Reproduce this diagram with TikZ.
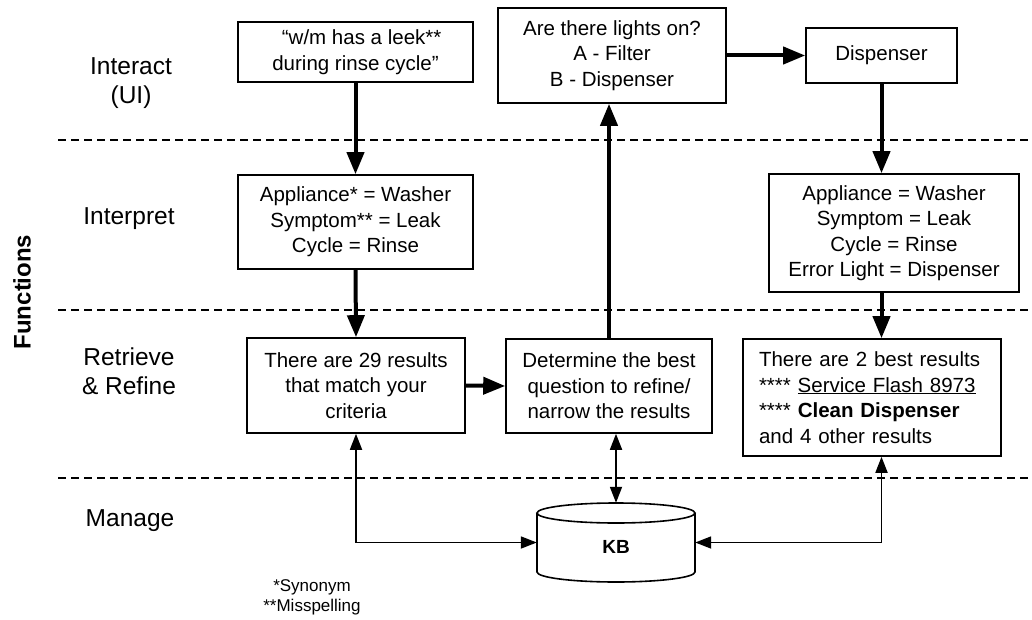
\documentclass[tikz,border=0pt]{standalone}
\usepackage{fontspec}
\setmainfont{Liberation Sans}
\usetikzlibrary{arrows.meta,calc}
\begin{document}
\begin{tikzpicture}[x=1pt,y=-1pt,
 box/.style={draw,line width=1.6pt,align=center,font=\fontsize{20.5}{25.5}\selectfont,inner sep=0pt},
 lane/.style={font=\fontsize{24.5}{29}\selectfont,align=center},
 sep/.style={line width=1.5pt,dash pattern=on 8pt off 5pt},
 flow/.style={line width=4pt,-{Triangle[length=22pt,width=17pt]}},
 link/.style={line width=1.8pt,{Triangle[length=16pt,width=12pt]}-{Triangle[length=16pt,width=12pt]}}]
\useasboundingbox (0,0) rectangle (1032,620);
% lane separators
\draw[sep] (58,140) -- (1032,140);
\draw[sep] (58,310) -- (1032,310);
\draw[sep] (58,478) -- (1032,478);
% lane labels
\node[lane] (l1) at (131,83) {Interact\\(UI)};
\node[lane] (l2) at (129,219) {Interpret};
\node[lane] (l3) at (129,371) {Retrieve\\\& Refine};
\node[lane] (l4) at (130,521) {Manage};
\node[font=\bfseries\fontsize{24}{29}\selectfont,rotate=90] (fn) at (22,292) {Functions};
% boxes
\node[box,minimum width=235pt,minimum height=60pt] (q) at (355.5,52) {\hspace*{0.6em}“w/m has a leek**\\during rinse cycle”};
\node[box,minimum width=228pt,minimum height=95pt] (lights) at (612,55.5) {Are there lights on?\\A - Filter\\B - Dispenser};
\node[box,minimum width=151pt,minimum height=55pt] (disp) at (881.5,55.5) {Dispenser};
\node[box,minimum width=235pt,minimum height=94pt] (interp) at (355.5,222) {Appliance* = Washer\\Symptom** = Leak\\Cycle = Rinse};
\node[box,minimum width=250pt,minimum height=118pt] (rint) at (894,233) {Appliance = Washer\\Symptom = Leak\\Cycle = Rinse\\Error Light = Dispenser};
\node[box,minimum width=218pt,minimum height=95pt] (res) at (356,385.5) {There are 29 results\\that match your\\criteria};
\node[box,minimum width=206pt,minimum height=94pt] (det) at (609,386) {Determine the best\\question to refine/\\narrow the results};
\node[box,minimum width=258pt,minimum height=117pt,align=left,text width=226pt] (best) at (872,397.5) {There are 2 best results\\*{*}*{*}* \underline{Service Flash 8973}\\*{*}*{*}* \textbf{Clean Dispenser}\\and 4 other results};
% KB cylinder
\node[minimum width=158pt,minimum height=79pt,inner sep=0pt] (kb) at (616,542.5) {};
\draw[line width=1.6pt] (616,513) ellipse [x radius=79, y radius=10];
\draw[line width=1.6pt] (537,513) -- (537,572) arc[start angle=180,end angle=0,x radius=79,y radius=10] -- (695,513);
\node[font=\bfseries\fontsize{19}{23}\selectfont] (kbt) at (616,547) {KB};
% flows
\draw[flow] (q.south) -- (interp.north);
\draw[flow] (interp.south) -- (res.north);
\draw[flow] (res.east) -- (det.west);
\draw[flow] (det.north) -- (det.north |- lights.south);
\draw[flow] (lights.east) -- (disp.west);
\draw[flow] (disp.south) -- (disp.south |- rint.north);
\draw[flow] (disp |- rint.south) -- (disp |- best.north);
% links
\draw[link] (res.south) |- (kb.west);
\draw[link] (kb.north) -- (kb.north |- det.south);
\draw[link] (kb.east) -| (disp |- best.south);
% footnote
\node[font=\fontsize{17}{20}\selectfont,align=center] (note) at (312,597) {*Synonym\\**Misspelling};
\end{tikzpicture}
\end{document}
